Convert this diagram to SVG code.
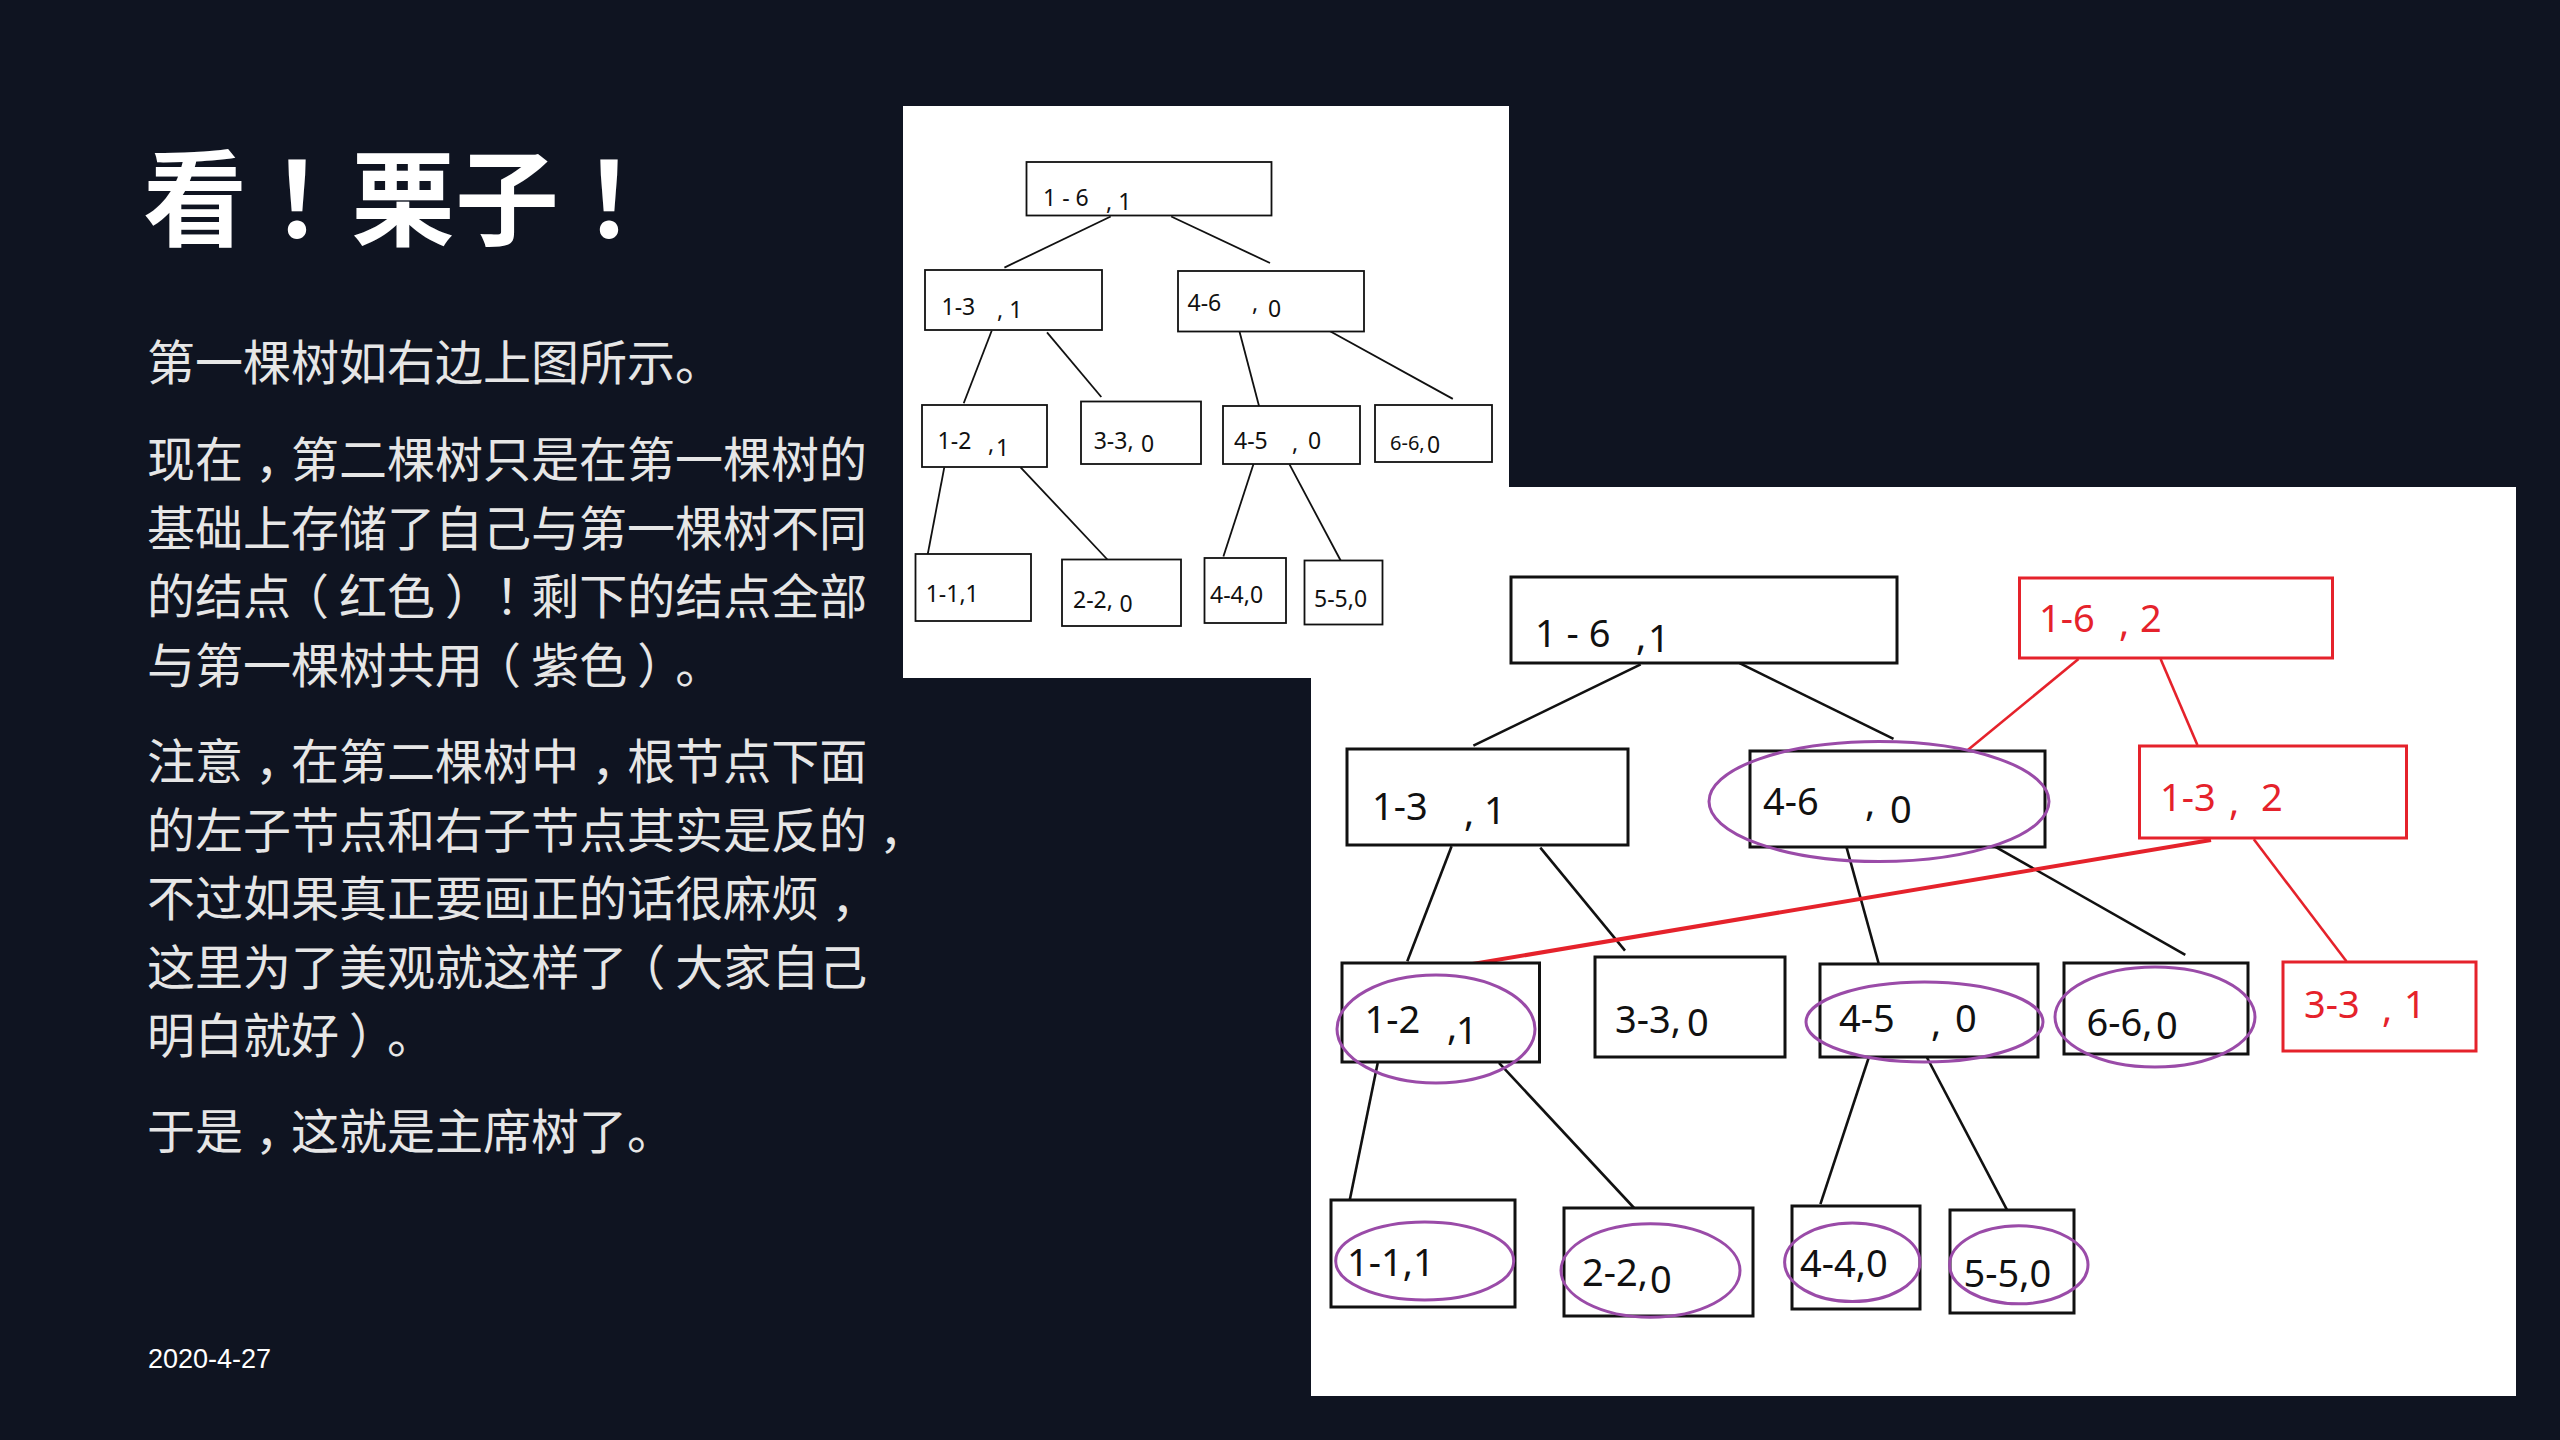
<svg xmlns="http://www.w3.org/2000/svg" width="2560" height="1440" viewBox="0 0 2560 1440">
<style>
.bg{fill:#0f1421}
.panel{fill:#ffffff}
.title{font-family:"Noto Sans CJK SC","Noto Sans",sans-serif;font-weight:700;font-size:104px;fill:#ffffff;text-spacing-trim:space-all}
.body{font-family:"Noto Sans CJK SC","Noto Sans",sans-serif;font-size:48px;fill:#e6e6e6;text-spacing-trim:space-all}
.date{font-family:"Liberation Sans",Arial,sans-serif;font-size:27px;fill:#ffffff}
.tb{fill:#ffffff;stroke:#111111;stroke-width:1.8}
.tl{stroke:#111111;stroke-width:1.8;fill:none}
.tt{font-family:"Noto Sans","Open Sans",sans-serif;font-size:23px;fill:#111111}
.bb{fill:#ffffff;stroke:#111111;stroke-width:3}
.bl{stroke:#111111;stroke-width:2.6;fill:none}
.bt{font-family:"Noto Sans","Open Sans",sans-serif;font-size:38px;fill:#111111}
.rb{fill:#ffffff;stroke:#e5222b;stroke-width:3}
.rl{stroke:#e5222b;stroke-width:2.6;fill:none}
.rlt{stroke:#e5222b;stroke-width:4;fill:none}
.rt{font-family:"Noto Sans","Open Sans",sans-serif;font-size:38px;fill:#e5222b}
.pe{fill:none;stroke:#9a4ba8;stroke-width:3}
</style>
<rect class="bg" x="0" y="0" width="2560" height="1440"/>

<g id="text">
<text class="title" x="143" y="238" dx="0 24 -24 0 24">看！栗子！</text>
<text class="body" x="147" y="380">第一棵树如右边上图所示。</text>
<text class="body" x="147" y="477" dx="0 0 12 -12">现在，第二棵树只是在第一棵树的</text>
<text class="body" x="147" y="545.5">基础上存储了自己与第一棵树不同</text>
<text class="body" x="147" y="614" dx="0 0 0 -10 10 0 10 2 -12">的结点（红色）！剩下的结点全部</text>
<text class="body" x="147" y="682.5" dx="0 0 0 0 0 0 0 -10 10 0 10 -10">与第一棵树共用（紫色）。</text>
<text class="body" x="147" y="779" dx="0 0 12 -12 0 0 0 0 0 12 -12">注意，在第二棵树中，根节点下面</text>
<text class="body" x="147" y="847.5">的左子节点和右子节点其实是反的<tspan dx="12">，</tspan></text>
<text class="body" x="147" y="916">不过如果真正要画正的话很麻烦<tspan dx="12">，</tspan></text>
<text class="body" x="147" y="984.5" dx="0 0 0 0 0 0 0 0 0 0 -10 10">这里为了美观就这样了（大家自己</text>
<text class="body" x="147" y="1053" dx="0 0 0 0 10 -10">明白就好）。</text>
<text class="body" x="147" y="1149" dx="0 0 12 -12">于是，这就是主席树了。</text>
<text class="date" x="148" y="1368">2020-4-27</text>
</g>

<rect id="panel2" class="panel" x="1311" y="487" width="1205" height="909"/>
<rect id="panel1" class="panel" x="903" y="106" width="606" height="572"/>

<g id="connectors">
<!-- first tree -->
<line class="tl" x1="1110.7" y1="216.5" x2="1004.4" y2="267.6"/>
<line class="tl" x1="1171.2" y1="216.5" x2="1270" y2="263"/>
<line class="tl" x1="991.7" y1="330.8" x2="963.7" y2="403.3"/>
<line class="tl" x1="1047" y1="332.3" x2="1101.3" y2="397"/>
<line class="tl" x1="1238.9" y1="329.3" x2="1259.4" y2="407.4"/>
<line class="tl" x1="1327.8" y1="330" x2="1452.8" y2="398.9"/>
<line class="tl" x1="944.3" y1="467.3" x2="927.3" y2="556.5"/>
<line class="tl" x1="1020.6" y1="467.3" x2="1108.8" y2="561"/>
<line class="tl" x1="1253.5" y1="464" x2="1223.4" y2="556.5"/>
<line class="tl" x1="1289.5" y1="464.4" x2="1340.9" y2="561"/>
<!-- second tree -->
<line class="bl" x1="1640.7" y1="664.3" x2="1473.4" y2="745.7"/>
<line class="bl" x1="1739.5" y1="663.2" x2="1893.5" y2="738.9"/>
<line class="bl" x1="1451.6" y1="846.3" x2="1407.3" y2="961.3"/>
<line class="bl" x1="1540.3" y1="847.7" x2="1625" y2="950.6"/>
<line class="bl" x1="1845.3" y1="842.8" x2="1878.8" y2="964"/>
<line class="bl" x1="1988.4" y1="842.8" x2="2185.3" y2="954.9"/>
<line class="bl" x1="1377.7" y1="1062.9" x2="1348.9" y2="1204.2"/>
<line class="bl" x1="1499" y1="1062.9" x2="1638.3" y2="1212.5"/>
<line class="bl" x1="1868.6" y1="1058" x2="1820.4" y2="1204.2"/>
<line class="bl" x1="1924.6" y1="1053" x2="2007" y2="1209.9"/>
<line class="rl" x1="2078.5" y1="659" x2="1967.8" y2="750"/>
<line class="rl" x1="2160.6" y1="659" x2="2197.4" y2="745"/>
<line class="rlt" x1="2211" y1="840" x2="1468" y2="964.8"/>
<line class="rl" x1="2253.8" y1="839.2" x2="2346.4" y2="961.3"/>
</g>

<g id="t1-root"><rect class="tb" x="1026.5" y="162" width="245" height="53.5"/><text class="tt" x="1043" y="206">1 - 6</text><text class="tt" x="1106" y="210">, 1</text></g>
<g id="t1-n13"><rect class="tb" x="925" y="270" width="177" height="60"/><text class="tt" x="941.5" y="315">1-3</text><text class="tt" x="997" y="318">, 1</text></g>
<g id="t1-n46"><rect class="tb" x="1178" y="271" width="186" height="60.5"/><text class="tt" x="1187.5" y="311">4-6</text><text class="tt" x="1252" y="311">,</text><text class="tt" x="1268" y="317">0</text></g>
<g id="t1-n12"><rect class="tb" x="922" y="405" width="125" height="62"/><text class="tt" x="937.6" y="449">1-2</text><text class="tt" x="988" y="452">,</text><text class="tt" x="996" y="456">1</text></g>
<g id="t1-n33"><rect class="tb" x="1081" y="401.5" width="120" height="62.5"/><text class="tt" x="1093.7" y="449">3-3,</text><text class="tt" x="1141" y="452">0</text></g>
<g id="t1-n45"><rect class="tb" x="1223" y="406" width="137" height="58"/><text class="tt" x="1234" y="449">4-5</text><text class="tt" x="1292" y="451">,</text><text class="tt" x="1308" y="449">0</text></g>
<g id="t1-n66"><rect class="tb" x="1375" y="405" width="117" height="57"/><text class="tt" x="1390" y="450" style="font-size:20px">6-6,</text><text class="tt" x="1427" y="453">0</text></g>
<g id="t1-n11"><rect class="tb" x="915.5" y="554" width="115.5" height="67"/><text class="tt" x="925.7" y="602">1-1,1</text></g>
<g id="t1-n22"><rect class="tb" x="1062" y="559.5" width="119" height="66.5"/><text class="tt" x="1073" y="608">2-2,</text><text class="tt" x="1119.5" y="612">0</text></g>
<g id="t1-n44"><rect class="tb" x="1204.5" y="558" width="81.5" height="65"/><text class="tt" x="1210" y="603">4-4,0</text></g>
<g id="t1-n55"><rect class="tb" x="1304.5" y="560.5" width="78" height="64"/><text class="tt" x="1314" y="607">5-5,0</text></g>

<g id="t2-root"><rect class="bb" x="1511" y="577" width="386" height="86"/><text class="bt" x="1535" y="647">1 - 6</text><text class="bt" x="1636" y="650">,</text><text class="bt" x="1648" y="652">1</text></g>
<g id="t2-red16"><rect class="rb" x="2019.5" y="578" width="313" height="80"/><text class="rt" x="2039" y="632">1-6</text><text class="rt" x="2119" y="636">,</text><text class="rt" x="2140" y="632">2</text></g>
<g id="t2-n13"><rect class="bb" x="1347" y="749" width="281" height="96"/><text class="bt" x="1372" y="820">1-3</text><text class="bt" x="1464" y="826">,</text><text class="bt" x="1484" y="824">1</text></g>
<g id="t2-n46"><rect class="bb" x="1750" y="751" width="295" height="96"/><text class="bt" x="1763" y="815">4-6</text><text class="bt" x="1865" y="816">,</text><text class="bt" x="1890" y="823">0</text><ellipse class="pe" cx="1879" cy="801.5" rx="170" ry="60"/></g>
<g id="t2-red13"><rect class="rb" x="2139.5" y="746" width="267" height="92"/><text class="rt" x="2160" y="811">1-3</text><text class="rt" x="2229" y="815">,</text><text class="rt" x="2261" y="811">2</text></g>
<g id="t2-n12"><rect class="bb" x="1342" y="963" width="197.5" height="99"/><text class="bt" x="1364.5" y="1033">1-2</text><text class="bt" x="1447" y="1040">,</text><text class="bt" x="1456" y="1044">1</text><ellipse class="pe" cx="1436" cy="1029" rx="99" ry="54"/></g>
<g id="t2-n33"><rect class="bb" x="1595" y="957" width="190" height="100"/><text class="bt" x="1615" y="1033">3-3,</text><text class="bt" x="1687" y="1036">0</text></g>
<g id="t2-n45"><rect class="bb" x="1820" y="964" width="218" height="93"/><text class="bt" x="1839" y="1032">4-5</text><text class="bt" x="1931" y="1036">,</text><text class="bt" x="1955" y="1032">0</text><ellipse class="pe" cx="1924.5" cy="1022" rx="118.5" ry="40"/></g>
<g id="t2-n66"><rect class="bb" x="2064" y="963" width="184" height="91"/><text class="bt" x="2086.5" y="1036">6-6,</text><text class="bt" x="2156" y="1039">0</text><ellipse class="pe" cx="2155" cy="1017" rx="100" ry="50"/></g>
<g id="t2-red33"><rect class="rb" x="2283" y="962" width="193" height="89"/><text class="rt" x="2304" y="1018">3-3</text><text class="rt" x="2382" y="1022">,</text><text class="rt" x="2404" y="1018">1</text></g>
<g id="t2-n11"><rect class="bb" x="1331" y="1200" width="184" height="107"/><text class="bt" x="1347" y="1276">1-1,1</text><ellipse class="pe" cx="1424.7" cy="1261" rx="89" ry="39"/></g>
<g id="t2-n22"><rect class="bb" x="1564" y="1208" width="189" height="108"/><text class="bt" x="1582" y="1286">2-2,</text><text class="bt" x="1650" y="1293">0</text><ellipse class="pe" cx="1650.5" cy="1270.5" rx="89.5" ry="46.7"/></g>
<g id="t2-n44"><rect class="bb" x="1792" y="1206" width="128" height="103"/><text class="bt" x="1800" y="1277">4-4,0</text><ellipse class="pe" cx="1852.3" cy="1262.3" rx="67.7" ry="39.3"/></g>
<g id="t2-n55"><rect class="bb" x="1950" y="1210" width="124" height="103"/><text class="bt" x="1963.6" y="1287">5-5,0</text><ellipse class="pe" cx="2018.8" cy="1264.8" rx="69.2" ry="39"/></g>
</svg>
